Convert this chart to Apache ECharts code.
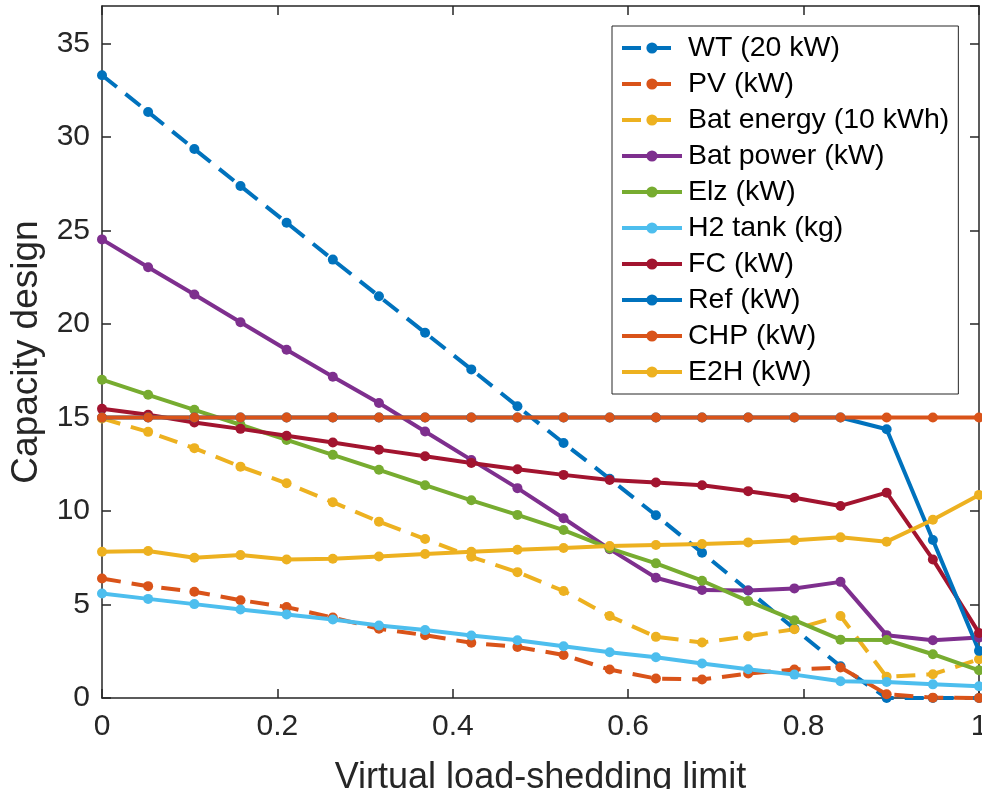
<!DOCTYPE html>
<html>
<head>
<meta charset="utf-8">
<script src="https://cdn.jsdelivr.net/npm/echarts@6/dist/echarts.min.js"></script>
<style>
  html, body { margin: 0; padding: 0; background: #fff; }
  #chart { width: 982px; height: 789px; }
</style>
</head>
<body>
<div id="chart"></div>
<script>
// Virtual load-shedding limit (x) and the optimal capacity of each component
const limits = [0, 0.0526, 0.1053, 0.1579, 0.2105, 0.2632, 0.3158, 0.3684, 0.4211, 0.4737,
                0.5263, 0.5789, 0.6316, 0.6842, 0.7368, 0.7895, 0.8421, 0.8947, 0.9474, 1];

const wt        = [33.3, 31.33, 29.35, 27.38, 25.41, 23.44, 21.48, 19.53, 17.57, 15.6,
                   13.63, 11.72, 9.77, 7.77, 5.75, 3.7, 1.7, 0, 0, 0];
const pv        = [6.39, 5.98, 5.68, 5.23, 4.86, 4.3, 3.7, 3.36, 2.95, 2.73,
                   2.3, 1.52, 1.04, 0.99, 1.31, 1.52, 1.63, 0.2, 0.02, 0];
const batEnergy = [14.95, 14.23, 13.36, 12.37, 11.48, 10.47, 9.43, 8.5, 7.55, 6.73,
                   5.72, 4.38, 3.27, 2.97, 3.3, 3.68, 4.38, 1.13, 1.27, 2.07];
const batPower  = [24.52, 23.03, 21.57, 20.09, 18.62, 17.18, 15.77, 14.25, 12.73, 11.22,
                   9.61, 7.96, 6.43, 5.77, 5.75, 5.86, 6.21, 3.36, 3.09, 3.23];
const elz       = [17.02, 16.21, 15.41, 14.61, 13.8, 13.0, 12.2, 11.38, 10.57, 9.79,
                   8.98, 8.0, 7.2, 6.27, 5.18, 4.16, 3.12, 3.1, 2.34, 1.48];
const h2Tank    = [5.59, 5.3, 5.02, 4.73, 4.47, 4.2, 3.88, 3.63, 3.34, 3.09,
                   2.77, 2.45, 2.18, 1.84, 1.54, 1.25, 0.9, 0.86, 0.73, 0.63];
const fc        = [15.46, 15.14, 14.73, 14.39, 14.02, 13.66, 13.28, 12.93, 12.57, 12.23,
                   11.93, 11.66, 11.52, 11.38, 11.06, 10.71, 10.27, 10.98, 7.41, 3.48];
const ref       = [15, 15, 15, 15, 15, 15, 15, 15, 15, 15,
                   15, 15, 15, 15, 15, 15, 15, 14.37, 8.45, 2.52];
const chp       = [15, 15, 15, 15, 15, 15, 15, 15, 15, 15,
                   15, 15, 15, 15, 15, 15, 15, 15, 15, 15];
const e2h       = [7.82, 7.86, 7.5, 7.64, 7.41, 7.45, 7.57, 7.7, 7.82, 7.93,
                   8.02, 8.13, 8.18, 8.23, 8.32, 8.43, 8.59, 8.36, 9.53, 10.86];

const xTicks = [0, 0.2, 0.4, 0.6, 0.8, 1];
const yTicks = [0, 5, 10, 15, 20, 25, 30, 35];

const seriesDefs = [
  { name: 'WT (20 kW)',          data: wt,        color: '#0072BD', dashed: true },
  { name: 'PV (kW)',             data: pv,        color: '#D95319', dashed: true },
  { name: 'Bat energy (10 kWh)', data: batEnergy, color: '#EDB120', dashed: true },
  { name: 'Bat power (kW)',      data: batPower,  color: '#7E2F8E', dashed: false },
  { name: 'Elz (kW)',            data: elz,       color: '#77AC30', dashed: false },
  { name: 'H2 tank (kg)',        data: h2Tank,    color: '#4DBEEE', dashed: false },
  { name: 'FC (kW)',             data: fc,        color: '#A2142F', dashed: false },
  { name: 'Ref (kW)',            data: ref,       color: '#0072BD', dashed: false },
  { name: 'CHP (kW)',            data: chp,       color: '#D95319', dashed: false },
  { name: 'E2H (kW)',            data: e2h,       color: '#EDB120', dashed: false }
];

const axisColor = '#262626';
const font = 'Liberation Sans, Arial, Helvetica, sans-serif';

const series = seriesDefs.map(s => ({
  name: s.name,
  type: 'line',
  data: limits.map((x, i) => [x, s.data[i]]),
  symbol: 'circle',
  symbolSize: 10,
  showSymbol: true,
  color: s.color,
  itemStyle: { color: s.color },
  lineStyle: { color: s.color, width: 4, type: s.dashed ? [19, 11] : 'solid' },
  emphasis: { disabled: true },
  animation: false
}));

const baseX = {
  type: 'value', min: 0, max: 1, interval: 0.2,
  axisLine: { show: true, onZero: false, lineStyle: { color: axisColor, width: 1.5 } },
  axisTick: { show: true, inside: true, length: 9, lineStyle: { color: axisColor, width: 1.5 } },
  splitLine: { show: false }
};
const baseY = {
  type: 'value', min: 0, max: 37, interval: 5,
  axisLine: { show: true, onZero: false, lineStyle: { color: axisColor, width: 1.5 } },
  axisTick: { show: true, inside: true, length: 9, lineStyle: { color: axisColor, width: 1.5 } },
  splitLine: { show: false }
};

const chart = echarts.init(document.getElementById('chart'), null, { renderer: 'canvas' });
chart.setOption({
  backgroundColor: '#ffffff',
  animation: false,
  grid: { left: 102, right: 3, top: 6, bottom: 91, containLabel: false, outerBoundsMode: 'none' },
  xAxis: [
    Object.assign({}, baseX, {
      position: 'bottom',
      name: 'Virtual load-shedding limit',
      nameLocation: 'middle',
      nameGap: 62,
      nameTextStyle: { fontFamily: font, fontSize: 36, color: axisColor },
      axisLabel: {
        show: true, margin: 14, fontFamily: font, fontSize: 30, color: axisColor,
        formatter: v => xTicks.includes(+v.toFixed(4)) ? String(+v.toFixed(1)) : ''
      }
    }),
    Object.assign({}, baseX, { position: 'top', axisLabel: { show: false } })
  ],
  yAxis: [
    Object.assign({}, baseY, {
      position: 'left',
      name: 'Capacity design',
      nameLocation: 'middle',
      nameGap: 54,
      nameTextStyle: { fontFamily: font, fontSize: 37, color: axisColor },
      axisLabel: {
        show: true, margin: 12, fontFamily: font, fontSize: 30, color: axisColor,
        showMaxLabel: false,
        formatter: v => yTicks.includes(v) ? String(v) : ''
      }
    }),
    Object.assign({}, baseY, { position: 'right', axisLabel: { show: false } })
  ],
  legend: {
    orient: 'vertical',
    left: 612,
    top: 26,
    padding: [7, 9, 7, 8],
    itemWidth: 60,
    itemHeight: 14,
    itemGap: 6,
    backgroundColor: '#ffffff',
    borderColor: axisColor,
    borderWidth: 1,
    borderRadius: 0,
    selectedMode: false,
    lineStyle: { width: 4 },
    textStyle: { fontFamily: font, fontSize: 28.5, color: '#000000', lineHeight: 30, padding: [0, 0, 0, 1] },
    data: seriesDefs.map(s => s.name)
  },
  series: series
});
</script>
</body>
</html>
